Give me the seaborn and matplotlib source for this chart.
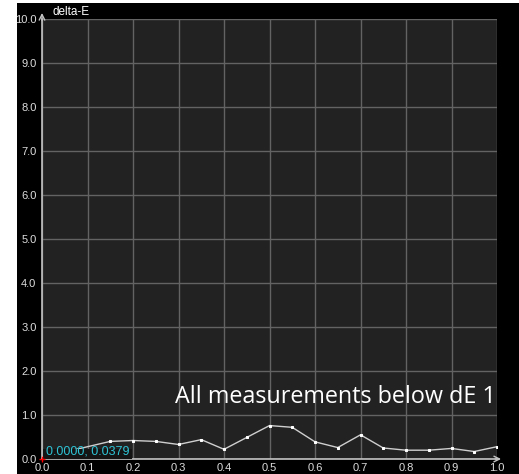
import numpy as np
import pandas as pd
import seaborn as sns
import matplotlib.pyplot as plt
from matplotlib.patches import Rectangle

# measured delta-E across the ramp
ramp = [0.0, 0.15, 0.2, 0.25, 0.3, 0.35, 0.4, 0.45, 0.5, 0.55, 0.6,
        0.65, 0.7, 0.75, 0.8, 0.85, 0.9, 0.95, 1.0]
delta_e = [0.0379, 0.40, 0.42, 0.40, 0.33, 0.44, 0.22, 0.49, 0.76, 0.72, 0.39,
           0.26, 0.55, 0.25, 0.20, 0.20, 0.24, 0.17, 0.28]
x_ticks = [round(v, 1) for v in np.arange(0, 1.01, 0.1)]
y_ticks = [float(v) for v in range(0, 11)]
tooltip = "0.0000, 0.0379"
note = "All measurements below dE 1"

df = pd.DataFrame({"ramp": ramp, "delta_e": delta_e})

sns.set_style("dark")
plt.rcParams['font.family'] = ['Liberation Sans', 'DejaVu Sans']

W, H = 519, 474
fig = plt.figure(figsize=(W / 100, H / 100), dpi=100, facecolor="white")
# black panel behind the chart
fig.add_artist(Rectangle((17 / W, 0), 1 - 17 / W, 1 - 3 / H,
                         transform=fig.transFigure, facecolor="black",
                         edgecolor="none", zorder=-10))

ax = fig.add_axes([42 / W, 15 / H, 455 / W, 440 / H])
ax.set_zorder(1)
ax.set_facecolor("#222222")

sns.lineplot(data=df, x="ramp", y="delta_e", ax=ax, color="#cfcfcf",
             linewidth=1.0, marker="s", markersize=2.0,
             markerfacecolor="white", markeredgecolor="white", zorder=5)

ax.set_xlim(0, 1)
ax.set_ylim(0, 10)
ax.set_xticks(x_ticks)
ax.set_yticks(y_ticks)
ax.set_xticklabels([f"{v:.1f}" for v in x_ticks])
ax.set_yticklabels([f"{v:.1f}" for v in y_ticks])
ax.grid(True, color="#636363", linewidth=1.0)
ax.set_xlabel("")
ax.set_ylabel("")
ax.tick_params(axis="both", colors="#aaaaaa", labelcolor="#dddddd",
               labelsize=8, length=3, width=0.8, pad=1, direction="out")
ax.tick_params(axis="x", pad=0)

for side in ["top", "right"]:
    ax.spines[side].set_visible(False)
for side in ["left", "bottom"]:
    ax.spines[side].set_visible(True)
    ax.spines[side].set_color("#c4c4c4")
    ax.spines[side].set_linewidth(1.2)

# axis arrows
ax.annotate("", xy=(0, 1.02), xytext=(0, 0.99), xycoords="axes fraction",
            arrowprops=dict(arrowstyle="->", color="#c4c4c4", lw=1.0),
            annotation_clip=False)
ax.annotate("", xy=(1.015, 0), xytext=(0.99, 0), xycoords="axes fraction",
            arrowprops=dict(arrowstyle="->", color="#c4c4c4", lw=1.0),
            annotation_clip=False)
ax.text(0.022, 1.003, "delta-E", transform=ax.transAxes, color="white",
        fontsize=8.5, ha="left", va="bottom")

# cursor readout box
ax.add_patch(Rectangle((0.002, 0.0), 0.196, 0.023, transform=ax.transAxes,
                       facecolor="#141414", edgecolor="none", zorder=5.5))
ax.text(0.009, 0.004, tooltip, transform=ax.transAxes, color="#2ec4d6",
        fontsize=9, ha="left", va="bottom", zorder=6)
ax.plot([0], [0], marker="+", color="red", markersize=4, zorder=7,
        clip_on=False)

ax.text(0.998, 1.27, note, color="white", fontsize=16.8,
        family=["Open Sans", "DejaVu Sans"], ha="right", va="baseline",
        zorder=6)

fig.savefig("out.png", dpi=100, facecolor="white")
